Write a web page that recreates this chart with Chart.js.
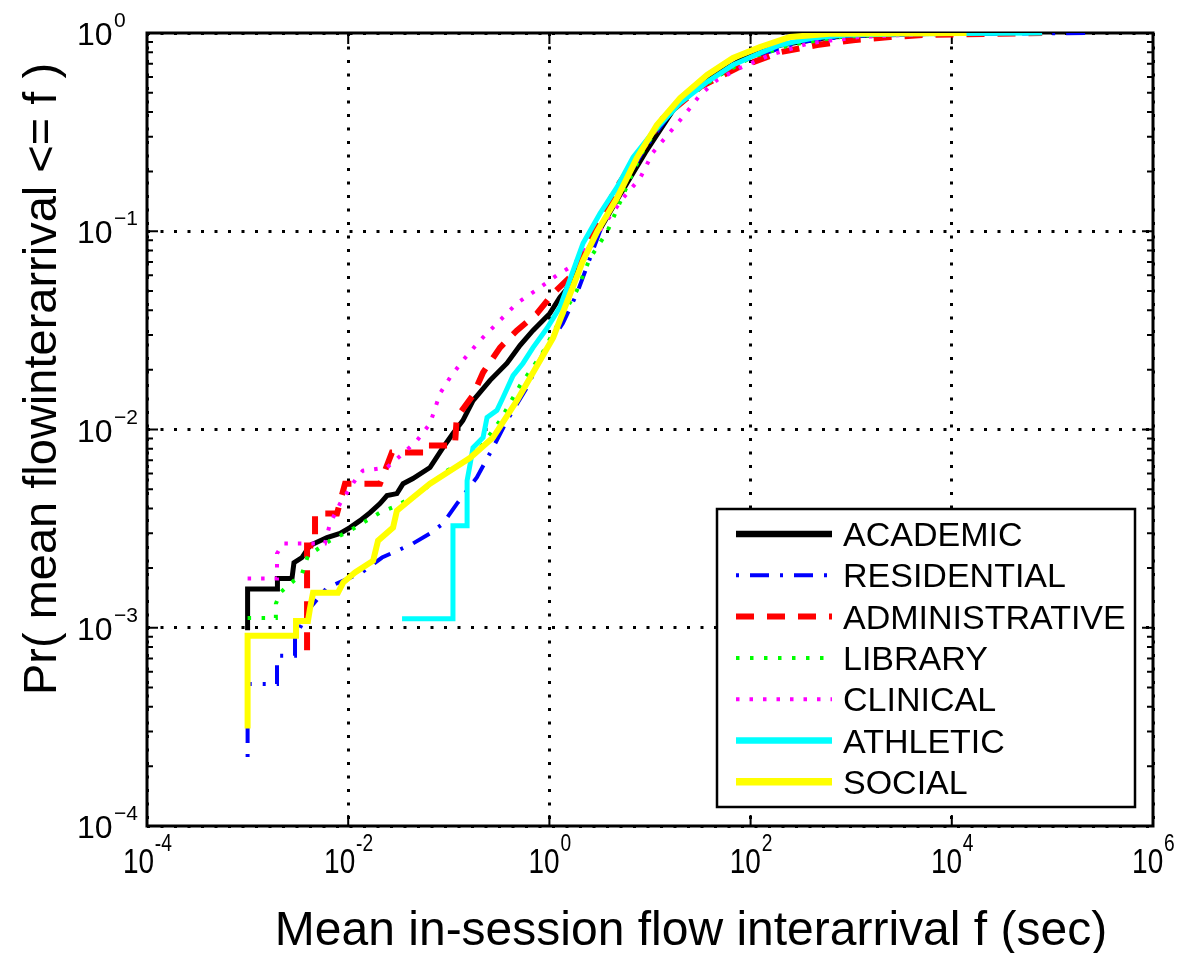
<!DOCTYPE html>
<html>
<head>
<meta charset="utf-8">
<script src="https://cdn.jsdelivr.net/npm/chart.js@4.4.1/dist/chart.umd.min.js"></script>
<style>
  html, body { margin: 0; padding: 0; background: #fff; }
  canvas { display: block; }
</style>
</head>
<body>
<canvas id="cdfChart" width="1184" height="953"></canvas>
<script>
// Empirical CDF of mean in-session flow interarrival, one curve per building type

const xTickExps = [-4, -2, 0, 2, 4, 6];
const yTickExps = [-4, -3, -2, -1, 0];
const labels = ["ACADEMIC", "RESIDENTIAL", "ADMINISTRATIVE", "LIBRARY", "CLINICAL", "ATHLETIC", "SOCIAL"];

// [f (sec), Pr(mean interarrival <= f)]
const academic = [
  [1e-3, 9.7e-4], [1e-3, 1.57e-3], [1.96e-3, 1.57e-3], [1.98e-3, 1.77e-3], [2.76e-3, 1.77e-3],
  [2.89e-3, 2.13e-3], [3.47e-3, 2.26e-3], [4.17e-3, 2.6e-3], [6.15e-3, 2.85e-3], [8.3e-3, 2.99e-3],
  [0.0104, 3.2e-3], [0.0131, 3.47e-3], [0.0165, 3.81e-3], [0.0207, 4.23e-3], [0.0243, 4.64e-3],
  [0.0305, 4.75e-3], [0.0351, 5.33e-3], [0.044, 5.66e-3], [0.065, 6.43e-3], [0.0875, 8.1e-3],
  [0.110, 9.55e-3], [0.138, 0.0111], [0.174, 0.0140], [0.257, 0.0177], [0.379, 0.0216],
  [0.511, 0.0266], [0.687, 0.0316], [1.01, 0.0385], [1.27, 0.0464], [1.46, 0.0504], [2.0, 0.068],
  [3.1, 0.1], [5.0, 0.152], [9.0, 0.25], [17.5, 0.418], [36, 0.579], [80, 0.731], [200, 0.87],
  [620, 0.955], [3000, 0.99], [3e4, 1.0]
];

const residential = [
  [1e-3, 2.23e-4], [1e-3, 5.2e-4], [1.96e-3, 5.2e-4], [1.96e-3, 6.58e-4], [2.05e-3, 7.22e-4],
  [2.96e-3, 7.22e-4], [2.96e-3, 8.9e-4], [4.17e-3, 1.26e-3], [6.15e-3, 1.59e-3], [0.0137, 1.90e-3],
  [0.0217, 2.26e-3], [0.044, 2.66e-3], [0.065, 2.99e-3], [0.0875, 3.35e-3], [0.1206, 4.23e-3],
  [0.190, 5.73e-3], [0.275, 8.1e-3], [0.379, 0.0111], [0.598, 0.0163], [0.863, 0.0242],
  [1.36, 0.0343], [1.88, 0.0486], [3.18, 0.1], [5.03, 0.161], [8.9, 0.262], [19.9, 0.459],
  [39.5, 0.579], [98.7, 0.748], [310, 0.90], [973, 0.966], [1e4, 0.99], [2.42e5, 1.0]
];

const administrative = [
  [3.9e-3, 7.7e-4], [3.9e-3, 2.6e-3], [4.68e-3, 2.6e-3], [4.68e-3, 3.77e-3], [7.74e-3, 3.77e-3],
  [9.3e-3, 5.33e-3], [0.0207, 5.33e-3], [0.0272, 7.65e-3], [0.068, 7.65e-3], [0.068, 8.3e-3],
  [0.115, 8.3e-3], [0.12, 0.0115], [0.174, 0.0149], [0.219, 0.0194], [0.323, 0.0259],
  [0.476, 0.0316], [0.753, 0.0385], [1.09, 0.0486], [1.60, 0.0586], [2.53, 0.09], [4.6, 0.165],
  [13.5, 0.372], [31.4, 0.533], [73.3, 0.666], [196, 0.80], [457, 0.87], [1042, 0.92],
  [2432, 0.954], [5176, 0.977], [7.9e4, 1.0]
];

const library = [
  [1e-3, 1.12e-3], [1.91e-3, 1.12e-3], [1.91e-3, 1.32e-3], [2.1e-3, 1.50e-3], [2.52e-3, 1.63e-3],
  [3.47e-3, 1.87e-3], [3.98e-3, 2.31e-3], [6.59e-3, 2.75e-3], [0.0104, 3.09e-3], [0.0207, 3.81e-3],
  [0.0305, 4.13e-3], [0.0518, 4.8e-3], [0.096, 6.2e-3], [0.138, 6.8e-3], [0.195, 7.8e-3],
  [0.323, 0.0111], [0.511, 0.0167], [0.84, 0.024], [1.27, 0.0355], [1.88, 0.0504], [2.53, 0.073],
  [3.74, 0.099], [5.04, 0.14], [6.78, 0.199], [8.9, 0.266], [14.1, 0.372], [25, 0.486],
  [49.7, 0.614], [98.7, 0.748], [246, 0.87], [774, 0.955], [3054, 0.99], [1.2e4, 1.0]
];

const clinical = [
  [1e-3, 1.77e-3], [1.96e-3, 1.77e-3], [1.96e-3, 2.37e-3], [2.25e-3, 2.66e-3], [5.87e-3, 2.66e-3],
  [6.59e-3, 3.35e-3], [8.3e-3, 4.23e-3], [0.0122, 5.73e-3], [0.014, 6.2e-3], [0.0243, 6.43e-3],
  [0.0351, 7.57e-3], [0.0483, 8.8e-3], [0.065, 0.0107], [0.0818, 0.0152], [0.103, 0.0183],
  [0.138, 0.0223], [0.204, 0.0281], [0.301, 0.0343], [0.476, 0.0433], [0.807, 0.0521],
  [1.19, 0.060], [1.72, 0.0673], [2.37, 0.083], [3.41, 0.106], [5.40, 0.147], [7.96, 0.185],
  [10.7, 0.25], [15.8, 0.316], [23.3, 0.40], [31.4, 0.486], [46.4, 0.579], [78.5, 0.666],
  [156, 0.774], [389, 0.89], [1225, 0.955], [6070, 0.99], [1.9e4, 1.0]
];

const athletic = [
  [0.0343, 1.11e-3], [0.110, 1.11e-3], [0.110, 3.27e-3], [0.152, 3.27e-3], [0.152, 5.52e-3],
  [0.163, 6.7e-3], [0.174, 8.1e-3], [0.219, 9.1e-3], [0.240, 0.0115], [0.301, 0.0125],
  [0.346, 0.0145], [0.435, 0.0187], [0.547, 0.0216], [0.687, 0.0259], [0.946, 0.0324],
  [1.27, 0.0413], [1.50, 0.0521], [2.16, 0.087], [3.18, 0.123], [4.7, 0.167], [6.78, 0.236],
  [10.7, 0.316], [19.9, 0.443], [36.9, 0.566], [66.8, 0.689], [124, 0.792], [196, 0.87],
  [417, 0.944], [908, 0.977], [4113, 0.99], [7.9e4, 1.0]
];

const social = [
  [1e-3, 3.1e-4], [1e-3, 9.1e-4], [3.03e-3, 9.1e-4], [3.03e-3, 1.08e-3], [3.98e-3, 1.08e-3],
  [4.17e-3, 1.25e-3], [4.47e-3, 1.50e-3], [7.9e-3, 1.50e-3], [8.9e-3, 1.69e-3], [0.0117, 1.90e-3],
  [0.0177, 2.18e-3], [0.0198, 2.75e-3], [0.0279, 3.2e-3], [0.0305, 3.9e-3], [0.044, 4.54e-3],
  [0.065, 5.33e-3], [0.103, 6.2e-3], [0.163, 7.2e-3], [0.275, 9.1e-3], [0.476, 0.014],
  [1.09, 0.029], [1.27, 0.0355], [2.16, 0.071], [3.0, 0.1], [4.7, 0.147], [7.4, 0.234],
  [11.7, 0.343], [19.9, 0.47], [36.9, 0.614], [66.8, 0.748], [124, 0.85], [246, 0.955],
  [617, 0.99], [1.4e4, 1.0]
];

const series = [academic, residential, administrative, library, clinical, athletic, social];

// matlab-ish line styles
const styles = [
  { color: "#000000", width: 5,   dash: [] },
  { color: "#0000ff", width: 4,   dash: [3, 11, 19, 11] },
  { color: "#ff0000", width: 6,   dash: [18, 13] },
  { color: "#00ff00", width: 4,   dash: [3.5, 10.5] },
  { color: "#ff00ff", width: 4,   dash: [3.5, 10] },
  { color: "#00ffff", width: 5,   dash: [] },
  { color: "#ffff00", width: 6,   dash: [] }
];

const FONT = '"Liberation Sans", Arial, Helvetica, sans-serif';

const datasets = series.map((pts, i) => ({
  label: labels[i],
  data: pts.map(p => ({ x: p[0], y: p[1] })),
  borderColor: styles[i].color,
  borderWidth: styles[i].width,
  borderDash: styles[i].dash,
  borderCapStyle: "butt",
  borderJoinStyle: "miter",
  pointRadius: 0,
  tension: 0,
  fill: false,
  order: series.length - 1 - i   // last series ends up on top
}));

function decadeTicks(exps) {
  return exps.map(e => ({ value: Math.pow(10, e) }));
}

// frame and inward tick marks
const framePlugin = {
  id: "framePlugin",
  beforeDatasetsDraw(chart) {
    const { ctx, chartArea: a, scales: { x, y } } = chart;
    ctx.save();
    ctx.strokeStyle = "#000";
    ctx.lineWidth = 2;
    ctx.beginPath();
    for (let e = yTickExps[0]; e < yTickExps[yTickExps.length - 1]; e++) {
      for (let k = 1; k <= 9; k++) {
        const py = y.getPixelForValue(k * Math.pow(10, e));
        const len = k === 1 ? 11 : 6;
        ctx.moveTo(a.left, py); ctx.lineTo(a.left + len, py);
        ctx.moveTo(a.right, py); ctx.lineTo(a.right - len, py);
      }
    }
    xTickExps.forEach(e => {
      const px = x.getPixelForValue(Math.pow(10, e));
      ctx.moveTo(px, a.bottom); ctx.lineTo(px, a.bottom - 11);
      ctx.moveTo(px, a.top); ctx.lineTo(px, a.top + 11);
    });
    ctx.stroke();
    ctx.lineWidth = 3;
    ctx.strokeRect(a.left, a.top, a.right - a.left, a.bottom - a.top);
    ctx.restore();
  }
};

// tick labels with superscript exponents, and the axis titles
const labelPlugin = {
  id: "labelPlugin",
  afterDraw(chart) {
    const { ctx, chartArea: a, scales: { x, y } } = chart;
    ctx.save();
    ctx.fillStyle = "#000";
    ctx.textBaseline = "alphabetic";

    // y axis: 10^n
    yTickExps.forEach(e => {
      const py = y.getPixelForValue(Math.pow(10, e));
      ctx.textAlign = "left";
      ctx.font = "32px " + FONT;
      ctx.fillText("10", 77, py + 12);
      ctx.font = "21px " + FONT;
      ctx.fillText(e < 0 ? "\u2212" + (-e) : String(e), 114, py - 6);
    });

    // x axis: 10^n, a bit condensed
    xTickExps.forEach(e => {
      const px = x.getPixelForValue(Math.pow(10, e));
      const exp = String(e);
      ctx.font = "35px " + FONT;
      const w10 = ctx.measureText("10").width * 0.8;
      ctx.font = "24px " + FONT;
      const wExp = ctx.measureText(exp).width * 0.8;
      const left = px - (w10 + wExp) / 2;
      ctx.save();
      ctx.translate(left, a.bottom + 47);
      ctx.scale(0.8, 1);
      ctx.textAlign = "left";
      ctx.font = "35px " + FONT;
      ctx.fillText("10", 0, 0);
      ctx.font = "24px " + FONT;
      ctx.fillText(exp, w10 / 0.8 + 1, -22);
      ctx.restore();
    });

    // axis titles
    ctx.font = "48px " + FONT;
    ctx.textAlign = "center";
    ctx.fillText("Mean in-session flow interarrival f (sec)", 691, 945);
    ctx.font = "47px " + FONT;
    ctx.save();
    ctx.translate(56, 379);
    ctx.rotate(-Math.PI / 2);
    ctx.fillText("Pr( mean flowinterarrival <= f )", 0, 0);
    ctx.restore();
    ctx.restore();
  }
};

// boxed legend inside the plot, lower right
const legendPlugin = {
  id: "legendPlugin",
  afterDraw(chart) {
    const { ctx } = chart;
    const box = { left: 717, top: 509, right: 1135, bottom: 807 };
    ctx.save();
    ctx.fillStyle = "#fff";
    ctx.fillRect(box.left, box.top, box.right - box.left, box.bottom - box.top);
    ctx.strokeStyle = "#000";
    ctx.lineWidth = 2.5;
    ctx.strokeRect(box.left, box.top, box.right - box.left, box.bottom - box.top);

    chart.data.datasets.forEach((ds, i) => {
      const rowY = 534 + i * 41.3;
      ctx.beginPath();
      ctx.strokeStyle = ds.borderColor;
      ctx.lineWidth = ds.borderDash.length ? ds.borderWidth : ds.borderWidth + 1.5;
      ctx.lineCap = "butt";
      ctx.setLineDash(ds.borderDash);
      ctx.moveTo(736, rowY);
      ctx.lineTo(832, rowY);
      ctx.stroke();
      ctx.setLineDash([]);
      ctx.fillStyle = "#000";
      ctx.font = "34px " + FONT;
      ctx.textAlign = "left";
      ctx.textBaseline = "alphabetic";
      ctx.fillText(ds.label, 843, rowY + 12);
    });
    ctx.restore();
  }
};

function axisOptions(min, max, exps) {
  return {
    type: "logarithmic",
    min: min,
    max: max,
    afterBuildTicks: scale => { scale.ticks = decadeTicks(exps); },
    afterFit: scale => {
      if (scale.isHorizontal()) scale.height = 0; else scale.width = 0;
    },
    ticks: { display: false },
    grid: { color: "#000", lineWidth: 3, drawTicks: false },
    border: { display: false, dash: [3, 10.5] }
  };
}

new Chart(document.getElementById("cdfChart"), {
  type: "line",
  data: { datasets: datasets },
  options: {
    responsive: false,
    animation: false,
    devicePixelRatio: 1,
    parsing: true,
    layout: { padding: { left: 147, right: 31, top: 33, bottom: 127 } },
    scales: {
      x: axisOptions(1e-4, 1e6, xTickExps),
      y: axisOptions(1e-4, 1, yTickExps)
    },
    plugins: {
      legend: { display: false },
      title: { display: false },
      tooltip: { enabled: false }
    }
  },
  plugins: [framePlugin, labelPlugin, legendPlugin]
});
</script>
</body>
</html>
